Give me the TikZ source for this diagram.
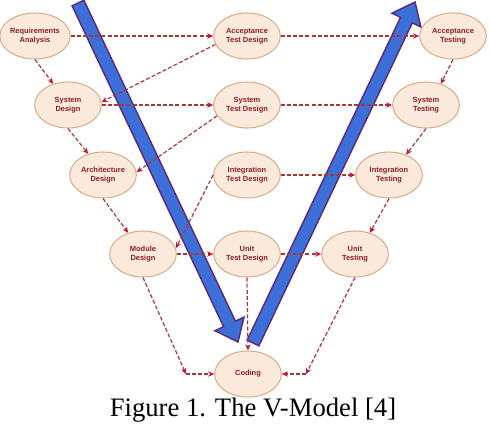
\documentclass[tikz,border=0pt]{standalone}
\usepackage{fontspec}
\setmainfont{Liberation Serif}
\newfontfamily\phasefont{Liberation Sans}
\usepackage{tikz}
\usetikzlibrary{shapes.geometric,arrows.meta}
\definecolor{phasefill}{HTML}{FBEADB}
\definecolor{phaseline}{HTML}{D6B08C}
\definecolor{phasetext}{HTML}{8A1C28}
\definecolor{flowline}{HTML}{A33A3A}
\definecolor{flowtip}{HTML}{C8102E}
\definecolor{vblue}{HTML}{3D6FD8}
\definecolor{vedge}{HTML}{5C2C78}

\begin{document}
\begin{tikzpicture}[x=0.75pt,y=-0.75pt,
    phase/.style={ellipse,draw=phaseline,fill=phasefill,line width=0.8pt,
        minimum width=50pt,minimum height=34.5pt,inner sep=0pt,align=center,
        text=phasetext,font=\phasefont\bfseries\fontsize{5.6}{6.8}\selectfont},
    flow/.style={draw=flowline,line width=0.9pt,dash pattern=on 3pt off 1.6pt,
        -{Stealth[length=4.5pt,width=4pt,color=flowtip]}},
    vbar/.style={fill=vblue,draw=vedge,line width=1.1pt,line join=miter}]
        \useasboundingbox (0,0) rectangle (490,430);

        % the two big arrows of the V
        \draw[vbar] (83.9,0.2) -- (235.4,321.1) -- (244.0,317.1) -- (238,342)
            -- (215.0,330.7) -- (223.6,326.7) -- (72.1,5.8) -- cycle;
        \draw[vbar] (258.9,345.8) -- (412.3,22.9) -- (420.9,27.0) -- (415,2)
            -- (392.0,13.2) -- (400.5,17.3) -- (247.1,340.2) -- cycle;

        % phases
        \node[phase] (req) at (35,36) {Requirements\\Analysis};
        \node[phase] (atd) at (247,36) {Acceptance\\Test Design};
        \node[phase] (at) at (453,36) {Acceptance\\Testing};
        \node[phase] (sd) at (68,105) {System\\Design};
        \node[phase] (std) at (247,105) {System\\Test Design};
        \node[phase] (st) at (426,105) {System\\Testing};
        \node[phase] (ad) at (103,175) {Architecture\\Design};
        \node[phase] (itd) at (247,175) {Integration\\Test Design};
        \node[phase] (it) at (389,175) {Integration\\Testing};
        \node[phase] (md) at (143,254) {Module\\Design};
        \node[phase] (utd) at (247,254) {Unit\\Test Design};
        \node[phase] (ut) at (355,254) {Unit\\Testing};
        \node[phase] (cod) at (248,374) {Coding};

        \coordinate (codl) at (186,374);
        \coordinate (codr) at (306,374);

        % dashed links
        \draw[flow] (req.east) -- (atd.west);
        \draw[flow] (atd.east) -- (at.west);
        \draw[flow] (req.south) -- (sd.125);
        \draw[flow] (atd.195) -- (sd.5);
        \draw[flow] (sd.east) -- (std.west);
        \draw[flow] (std.east) -- (st.west);
        \draw[flow] (at.south) -- (st.55);
        \draw[flow] (sd.south) -- (ad.125);
        \draw[flow] (std.200) -- (ad.5);
        \draw[flow] (st.south) -- (it.50);
        \draw[flow] (itd.east) -- (it.west);
        \draw[flow] (ad.south) -- (md.125);
        \draw[flow] (itd.west) -- (md.10);
        \draw[flow] (md.east) -- (utd.west);
        \draw[flow] (it.south) -- (ut.55);
        \draw[flow] (utd.east) -- (ut.west);
        \draw[flow] (utd.south) -- (cod.north);
        \draw[flow] (md.south) -- (codl);
        \draw[flow] (codl) -- (cod.west);
        \draw[flow] (ut.south) -- (codr);
        \draw[flow] (codr) -- (cod.east);

        \node[font=\fontsize{20}{24}\selectfont,anchor=base] (caption) at (253,416) {Figure 1. The V-Model [4]};
    \end{tikzpicture}
\end{document}
